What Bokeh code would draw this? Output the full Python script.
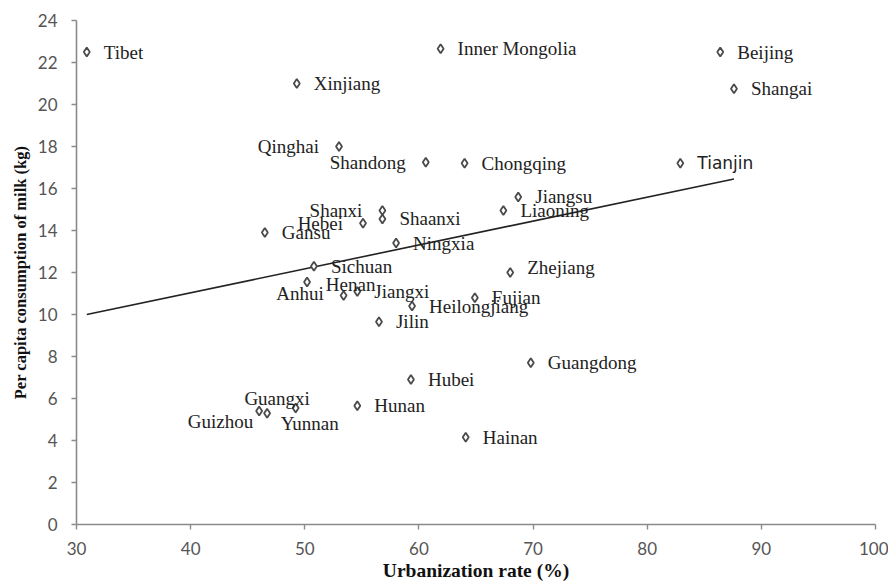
from bokeh.plotting import figure
from bokeh.models import Range1d, ColumnDataSource, FixedTicker
from bokeh.core.properties import value
from bokeh.embed import file_html
from bokeh.resources import INLINE

# ---- data ----
provinces = ["Tibet", "Xinjiang", "Inner Mongolia", "Beijing", "Shangai", "Qinghai",
             "Shandong", "Chongqing", "Tianjin", "Jiangsu", "Liaoning", "Shanxi",
             "Shaanxi", "Hebei", "Gansu", "Ningxia", "Sichuan", "Zhejiang", "Anhui",
             "Henan", "Jiangxi", "Fujian", "Heilongjiang", "Jilin", "Guangdong",
             "Hubei", "Guangxi", "Guizhou", "Yunnan", "Hunan", "Hainan"]
urbanization = [30.9, 49.3, 61.9, 86.4, 87.6, 53.0,
                60.6, 64.0, 82.9, 68.7, 67.4, 56.8,
                56.8, 55.1, 46.5, 58.0, 50.8, 68.0, 50.2,
                53.4, 54.6, 64.9, 59.4, 56.5, 69.8,
                59.3, 46.7, 46.0, 49.2, 54.6, 64.1]
milk = [22.5, 21.0, 22.65, 22.5, 20.75, 18.0,
        17.25, 17.2, 17.2, 15.6, 14.95, 14.95,
        14.55, 14.35, 13.9, 13.4, 12.3, 12.0, 11.55,
        10.9, 11.1, 10.8, 10.4, 9.65, 7.7,
        6.9, 5.3, 5.4, 5.55, 5.65, 4.15]
trend_x = [30.9, 87.6]
trend_y = [10.0, 16.45]
x_ticks = [30, 40, 50, 60, 70, 80, 90, 100]
y_ticks = [0, 2, 4, 6, 8, 10, 12, 14, 16, 18, 20, 22, 24]
x_title = "Urbanization rate (%)"
y_title = "Per capita consumption of milk (kg)"

# ---- label placement (layout only): align, dx, dy in screen pixels ----
placement = {
    "Qinghai": ("right", -20, 0),
    "Shandong": ("right", -20, 0),
    "Shanxi": ("right", -20, 0),
    "Hebei": ("right", -20, 0),
    "Anhui": ("center", -7, 12),
    "Henan": ("center", 7, -11),
    "Guizhou": ("right", -6, 10),
    "Guangxi": ("center", 10, -15),
    "Yunnan": ("center", 14, 16),
    "Zhejiang": ("left", 17, -5),
}
aligns, dxs, dys = [], [], []
for name in provinces:
    a, dx, dy = placement.get(name, ("left", 17, 0))
    aligns.append(a)
    dxs.append(dx)
    dys.append(dy)

serif_idx = [i for i, n in enumerate(provinces) if n != "Tianjin"]
sans_idx = [i for i, n in enumerate(provinces) if n == "Tianjin"]

def sub(idx):
    return ColumnDataSource(dict(
        x=[urbanization[i] for i in idx], y=[milk[i] for i in idx],
        name=[provinces[i] for i in idx], align=[aligns[i] for i in idx],
        dx=[dxs[i] for i in idx], dy=[dys[i] for i in idx]))

p = figure(width=888, height=584, output_backend="svg", toolbar_location=None,
           x_range=Range1d(30, 100), y_range=Range1d(0, 24),
           min_border_left=76, min_border_right=13, min_border_top=20,
           min_border_bottom=60)
p.outline_line_color = None
p.xgrid.grid_line_color = None
p.ygrid.grid_line_color = None
p.background_fill_color = "white"
p.border_fill_color = "white"

for ax in (p.xaxis[0], p.yaxis[0]):
    ax.axis_line_color = "#8a8a8a"
    ax.axis_line_width = 1.6
    ax.major_tick_line_color = "#8a8a8a"
    ax.major_tick_line_width = 1.4
    ax.major_tick_out = 5
    ax.major_tick_in = 0
    ax.minor_tick_line_color = None
    ax.major_label_text_font = "Lato"
    ax.major_label_text_font_size = "17px"
    ax.major_label_text_color = "#555555"
    ax.axis_label_text_font = "Liberation Serif"
    ax.axis_label_text_font_style = "bold"
    ax.axis_label_text_color = "#111111"

p.xaxis.axis_label_text_font_size = "19.5px"
p.yaxis.axis_label_text_font_size = "16.5px"
p.xaxis.ticker = FixedTicker(ticks=x_ticks)
p.yaxis.ticker = FixedTicker(ticks=y_ticks)
p.xaxis.axis_label = x_title
p.yaxis.axis_label = y_title
p.xaxis.major_label_standoff = 12
p.xaxis.axis_label_standoff = 2
p.yaxis.major_label_standoff = 14
p.yaxis.axis_label_standoff = 5

# trend line
p.line(trend_x, trend_y, line_color="#222222", line_width=1.6)

# markers
pts = ColumnDataSource(dict(x=urbanization, y=milk))
p.scatter("x", "y", source=pts, marker="diamond", size=9,
          fill_color="white", line_color="#4a4a4a", line_width=1.8)

# labels
p.text("x", "y", text="name", source=sub(serif_idx), text_align="align",
       text_baseline="middle", x_offset="dx", y_offset="dy",
       text_font=value("Liberation Serif"), text_font_size="19px",
       text_color="#222222")
p.text("x", "y", text="name", source=sub(sans_idx), text_align="align",
       text_baseline="middle", x_offset="dx", y_offset="dy",
       text_font=value("DejaVu Sans"), text_font_size="17px",
       text_color="#222222")

open("out.html", "w").write(file_html(p, INLINE))
